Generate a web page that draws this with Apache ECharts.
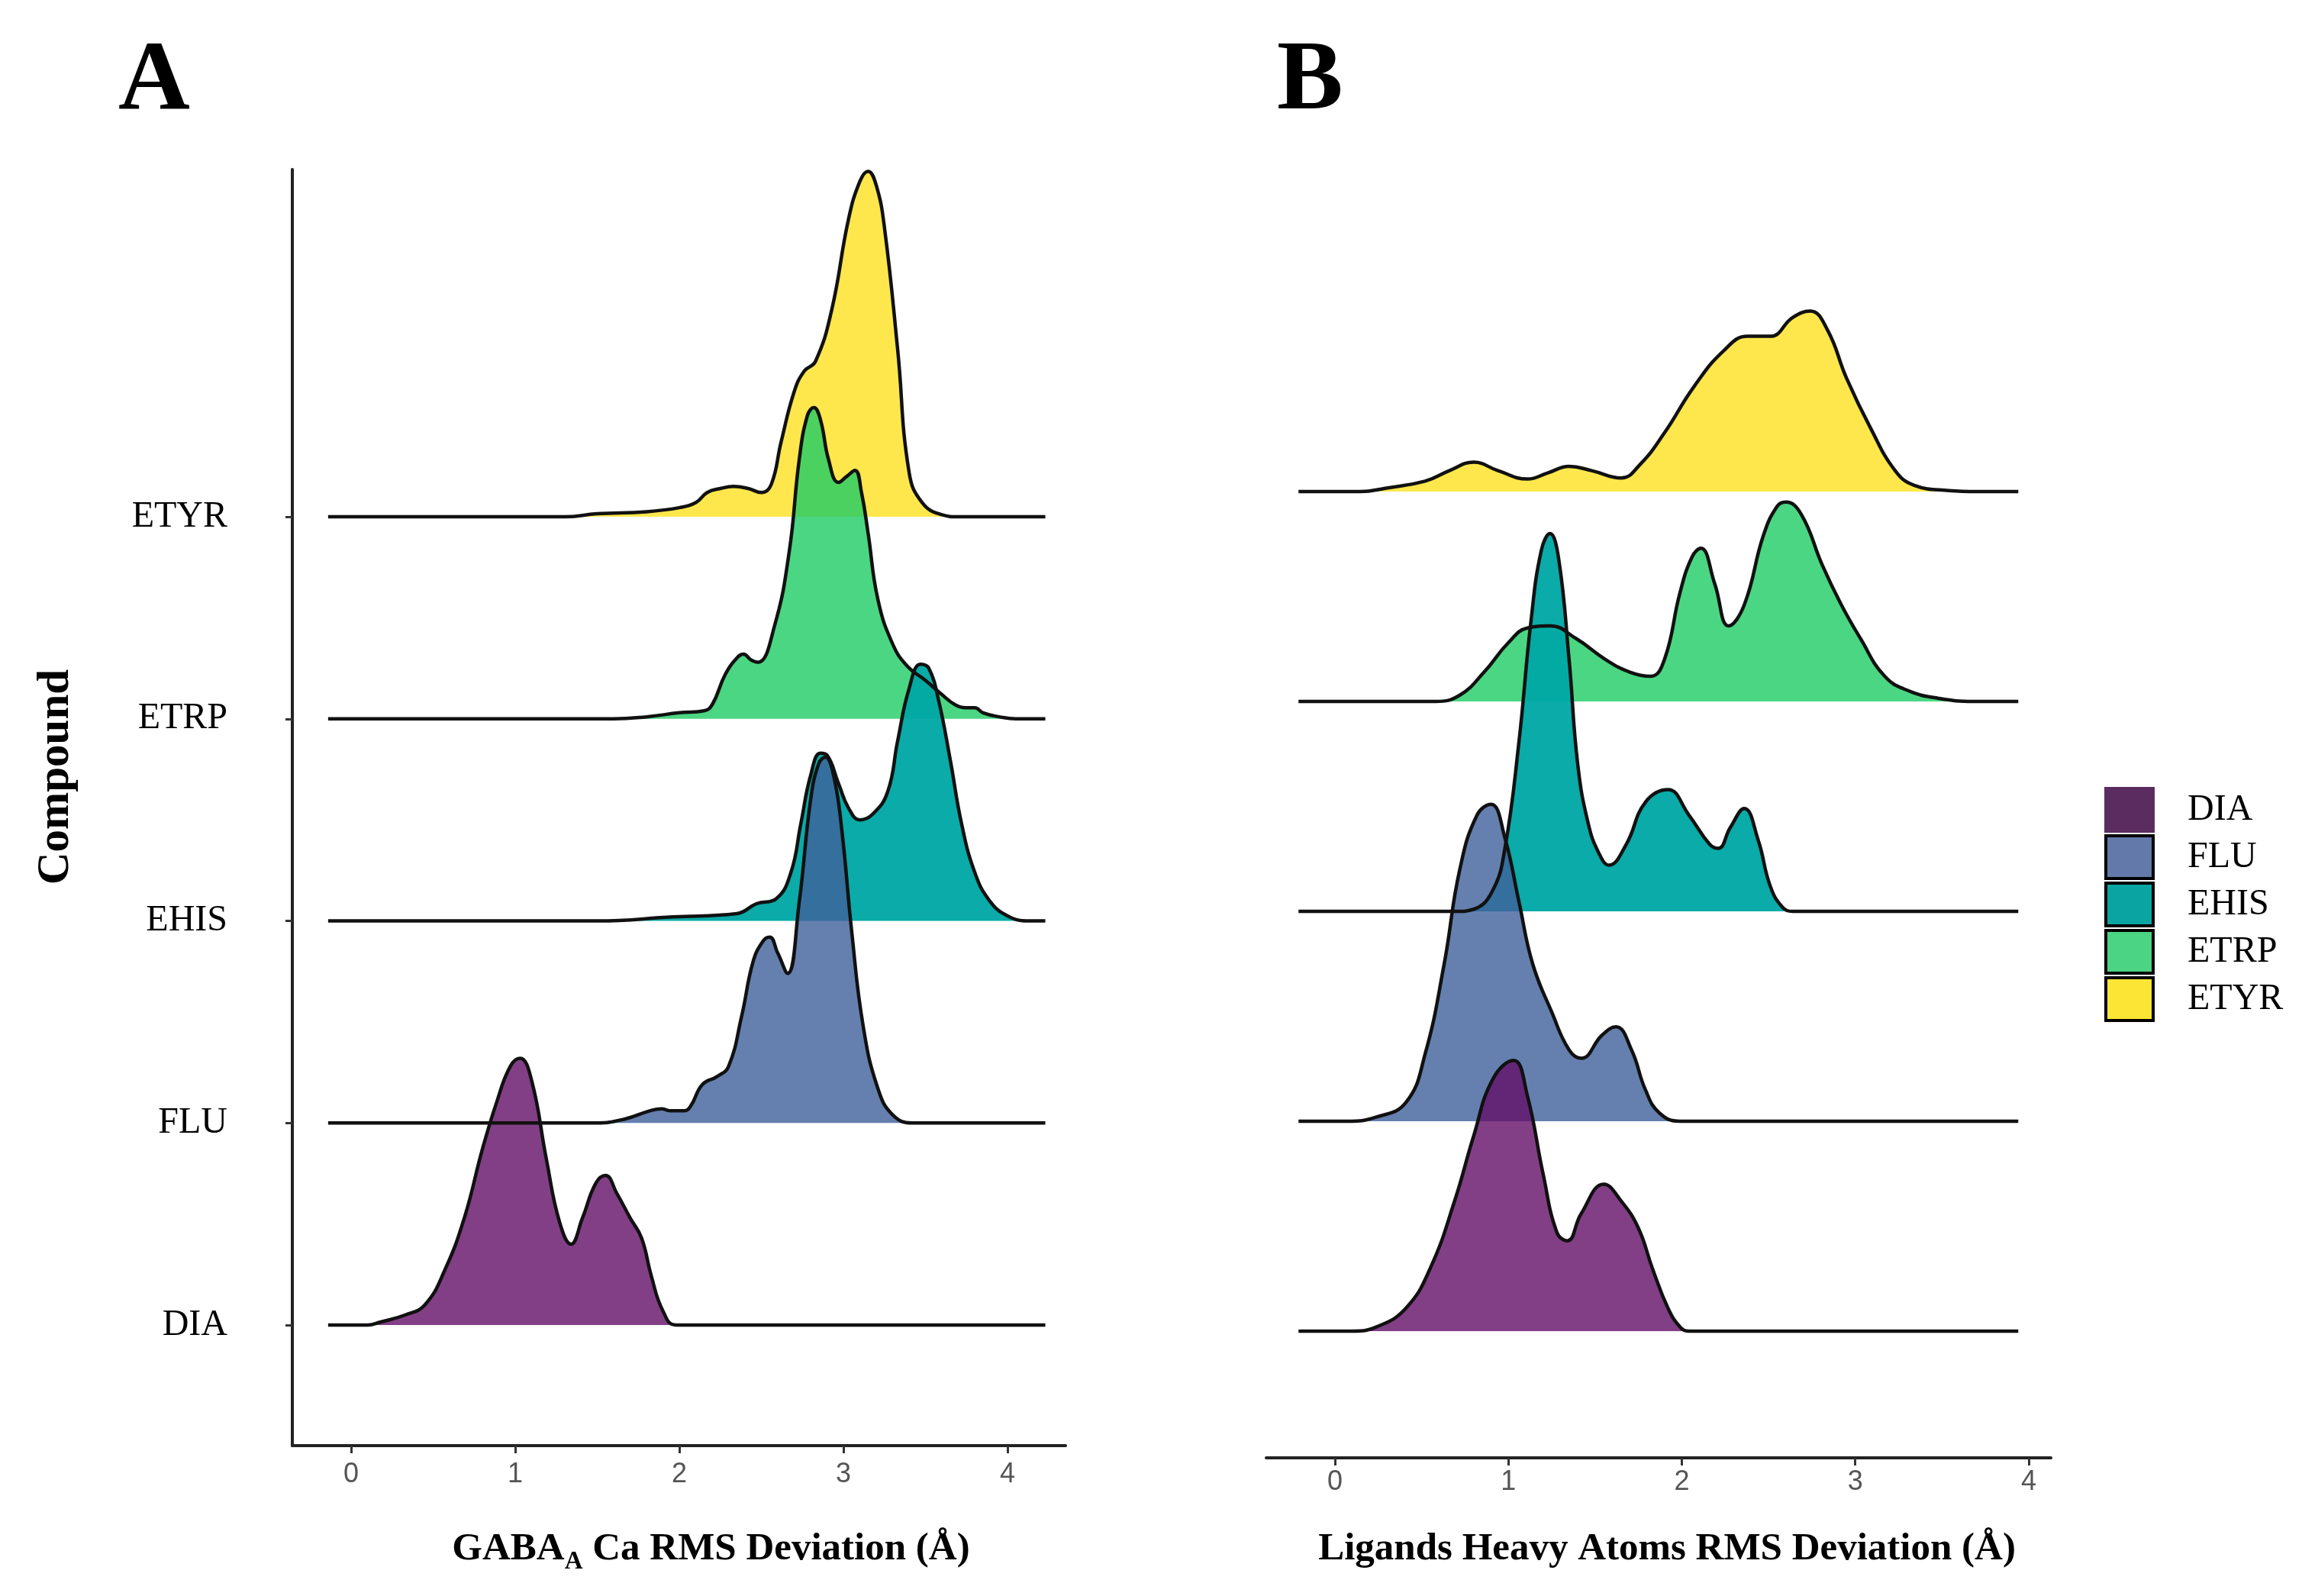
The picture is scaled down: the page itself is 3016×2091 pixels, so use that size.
<!DOCTYPE html>
<html>
<head>
<meta charset="utf-8">
<title>RMS deviation ridgelines</title>
<script src="https://cdn.jsdelivr.net/npm/echarts@6/dist/echarts.min.js"></script>
<style>
  html, body { margin: 0; padding: 0; background: #fff; }
  #chart { width: 3016px; height: 2091px; }
</style>
</head>
<body>
<div id="chart"></div>
<script>
// compounds, bottom ridge first
var compounds = ['DIA', 'FLU', 'EHIS', 'ETRP', 'ETYR'];
var legendColors = ['#5b2c5f', '#6279a9', '#0aa5a2', '#4bd483', '#fce534'];
var fillColors = ['rgba(99,15,104,0.8)', 'rgba(63,96,155,0.8)', 'rgba(0,168,164,0.96)',
                  'rgba(30,204,100,0.8)', 'rgba(253,225,31,0.8)'];
var xTicks = [0, 1, 2, 3, 4];

// panel A : GABA-A Ca RMS deviation, density in units of ridge spacing
var gabaDIA = [[-0.14,0],[0.1,0],[0.18,0.015],[0.33,0.05],[0.45,0.1],[0.57,0.27],[0.69,0.53],[0.8,0.87],[0.89,1.11],[0.97,1.28],[1.03,1.32],[1.1,1.21],[1.19,0.82],[1.27,0.51],[1.34,0.4],[1.41,0.53],[1.49,0.7],[1.55,0.74],[1.62,0.65],[1.7,0.53],[1.77,0.43],[1.83,0.24],[1.9,0.07],[1.98,0],[4.23,0]];
var gabaFLU = [[-0.14,0],[1.5,0],[1.67,0.02],[1.82,0.06],[1.89,0.07],[1.95,0.06],[2.03,0.06],[2.07,0.085],[2.14,0.19],[2.23,0.23],[2.3,0.28],[2.38,0.53],[2.45,0.8],[2.51,0.9],[2.55,0.92],[2.6,0.84],[2.66,0.74],[2.73,1.09],[2.8,1.6],[2.85,1.78],[2.89,1.81],[2.94,1.72],[2.99,1.45],[3.05,0.95],[3.12,0.48],[3.21,0.17],[3.3,0.04],[3.42,0],[4.23,0]];
var gabaEHIS = [[-0.14,0],[1.5,0],[1.96,0.02],[2.35,0.036],[2.47,0.085],[2.59,0.11],[2.68,0.24],[2.74,0.48],[2.8,0.72],[2.86,0.83],[2.9,0.82],[2.97,0.68],[3.03,0.56],[3.1,0.5],[3.18,0.53],[3.27,0.64],[3.33,0.89],[3.4,1.15],[3.47,1.27],[3.52,1.25],[3.58,1.09],[3.65,0.8],[3.72,0.48],[3.8,0.24],[3.89,0.1],[4.0,0.025],[4.13,0],[4.23,0]];
var gabaETRP = [[-0.14,0],[1.6,0],[1.8,0.01],[2.0,0.03],[2.15,0.04],[2.2,0.07],[2.28,0.22],[2.35,0.3],[2.39,0.32],[2.44,0.29],[2.48,0.28],[2.58,0.46],[2.67,0.83],[2.73,1.28],[2.78,1.5],[2.82,1.54],[2.86,1.48],[2.91,1.28],[2.97,1.17],[3.02,1.2],[3.07,1.23],[3.11,1.12],[3.15,0.92],[3.21,0.59],[3.3,0.37],[3.39,0.26],[3.5,0.19],[3.6,0.12],[3.68,0.07],[3.75,0.055],[3.8,0.055],[3.85,0.03],[3.95,0.01],[4.05,0],[4.23,0]];
var gabaETYR = [[-0.14,0],[1.3,0],[1.5,0.015],[1.8,0.025],[2.0,0.045],[2.1,0.07],[2.17,0.12],[2.25,0.14],[2.33,0.15],[2.42,0.14],[2.5,0.12],[2.56,0.16],[2.62,0.37],[2.7,0.62],[2.76,0.72],[2.83,0.77],[2.93,1.03],[3.03,1.47],[3.1,1.66],[3.15,1.71],[3.2,1.64],[3.25,1.43],[3.33,0.83],[3.4,0.22],[3.48,0.07],[3.6,0.01],[3.7,0],[4.23,0]];

// panel B : ligand heavy atoms RMS deviation
var ligDIA = [[-0.21,0],[0.1,0],[0.24,0.02],[0.41,0.11],[0.55,0.3],[0.69,0.62],[0.8,0.93],[0.91,1.2],[1.03,1.29],[1.11,1.12],[1.2,0.75],[1.28,0.47],[1.34,0.43],[1.42,0.56],[1.55,0.7],[1.65,0.62],[1.75,0.49],[1.83,0.3],[1.92,0.11],[1.99,0.02],[2.04,0],[3.94,0]];
var ligFLU = [[-0.21,0],[0.07,0],[0.24,0.02],[0.41,0.09],[0.52,0.32],[0.63,0.75],[0.72,1.2],[0.82,1.46],[0.9,1.51],[0.98,1.35],[1.06,1.05],[1.14,0.75],[1.25,0.52],[1.35,0.34],[1.42,0.3],[1.54,0.41],[1.62,0.45],[1.71,0.34],[1.79,0.15],[1.87,0.04],[1.99,0],[3.94,0]];
var ligEHIS = [[-0.21,0],[0.7,0],[0.8,0.01],[0.91,0.1],[0.98,0.3],[1.06,0.8],[1.13,1.38],[1.19,1.72],[1.24,1.8],[1.29,1.68],[1.35,1.2],[1.4,0.7],[1.46,0.42],[1.52,0.28],[1.58,0.22],[1.68,0.32],[1.79,0.52],[1.92,0.58],[2.04,0.46],[2.16,0.32],[2.21,0.3],[2.28,0.4],[2.36,0.49],[2.44,0.34],[2.51,0.12],[2.58,0.02],[2.64,0],[3.94,0]];
var ligETRP = [[-0.21,0],[0.58,0],[0.72,0.03],[0.86,0.14],[1.0,0.28],[1.11,0.35],[1.24,0.36],[1.39,0.3],[1.56,0.2],[1.7,0.14],[1.82,0.12],[1.9,0.2],[1.99,0.52],[2.06,0.69],[2.11,0.73],[2.19,0.56],[2.27,0.36],[2.36,0.46],[2.47,0.79],[2.55,0.93],[2.6,0.95],[2.69,0.89],[2.81,0.65],[2.92,0.46],[3.03,0.3],[3.17,0.12],[3.31,0.05],[3.48,0.015],[3.68,0],[3.94,0]];
var ligETYR = [[-0.21,0],[0.15,0],[0.29,0.016],[0.52,0.05],[0.66,0.1],[0.8,0.14],[0.94,0.1],[1.11,0.06],[1.23,0.09],[1.35,0.12],[1.48,0.1],[1.65,0.065],[1.76,0.13],[1.9,0.28],[2.07,0.5],[2.24,0.67],[2.38,0.74],[2.51,0.74],[2.64,0.83],[2.74,0.86],[2.84,0.77],[2.95,0.54],[3.09,0.3],[3.23,0.1],[3.34,0.03],[3.54,0.005],[3.7,0],[3.94,0]];

var gabaData = [gabaDIA, gabaFLU, gabaEHIS, gabaETRP, gabaETYR];
var ligData = [ligDIA, ligFLU, ligEHIS, ligETRP, ligETYR];

var serif = 'Liberation Serif, DejaVu Serif, serif';
var narrow = 'Liberation Sans Narrow, Liberation Sans, sans-serif';

// each ridge sits on its own row (row index k), area filled down to that row
function ridges(data, axisIndex) {
    var out = [];
    for (var k = compounds.length - 1; k >= 0; k--) {
        var row = k;
        out.push({
            name: compounds[k], type: 'line',
            xAxisIndex: axisIndex, yAxisIndex: axisIndex,
            data: data[k].map(function (p) { return [p[0], row + p[1]]; }),
            smooth: 0.45, symbol: 'none', clip: false,
            itemStyle: { color: legendColors[k] },
            lineStyle: { color: '#111', width: 4.5 },
            areaStyle: { color: fillColors[k], opacity: 1, origin: row }
        });
    }
    return out;
}

var chart = echarts.init(document.getElementById('chart'));
var option = {
    backgroundColor: '#fff',
    animation: false,
    title: [
        { text: 'A', left: 150, top: 38, textStyle: { fontFamily: serif, fontWeight: 'bold', fontSize: 130, color: '#000' } },
        { text: 'B', left: 1668, top: 38, textStyle: { fontFamily: serif, fontWeight: 'bold', fontSize: 130, color: '#000' } }
    ],
    legend: {
        orient: 'vertical', left: 2752, top: 1026,
        icon: 'rect', itemWidth: 62, itemHeight: 56, itemGap: 2,
        textStyle: { fontFamily: serif, fontSize: 48, color: '#000', padding: [16, 0, 0, 40] },
        data: compounds.map(function (c, i) {
            return { name: c, itemStyle: { color: legendColors[i], borderColor: i === 0 ? legendColors[0] : '#000', borderWidth: 4 } };
        })
    },
    grid: [
        { left: 383, top: 222, width: 1013, height: 1672 },
        { left: 1659, top: 222, width: 1028, height: 1688 }
    ],
    xAxis: [
        {
            type: 'value', gridIndex: 0, min: -0.358, max: 4.353,
            name: '{m|GABA}{s|A}{m| Ca RMS Deviation (Å)}',
            nameLocation: 'middle', nameGap: 104,
            nameTextStyle: {
                padding: [0, 0, 0, 84],
                rich: {
                    m: { fontFamily: serif, fontWeight: 'bold', fontSize: 51, color: '#000', lineHeight: 64 },
                    s: { fontFamily: serif, fontWeight: 'bold', fontSize: 33, color: '#000', lineHeight: 33, padding: [32, 0, 0, 0] }
                }
            },
            axisLine: { onZero: false, lineStyle: { color: '#222', width: 4 } },
            axisTick: { customValues: xTicks, length: 10, lineStyle: { color: '#333', width: 3 } },
            axisLabel: { customValues: xTicks, margin: 20, fontFamily: narrow, fontSize: 36, color: '#555' },
            splitLine: { show: false }
        },
        {
            type: 'value', gridIndex: 1, min: -0.396, max: 4.128,
            name: 'Ligands Heavy Atoms RMS Deviation (Å)',
            nameLocation: 'middle', nameGap: 94,
            nameTextStyle: { fontFamily: serif, fontWeight: 'bold', fontSize: 51, color: '#000', padding: [0, 0, 0, 22] },
            axisLine: { onZero: false, lineStyle: { color: '#222', width: 4 } },
            axisTick: { customValues: xTicks, length: 10, lineStyle: { color: '#333', width: 3 } },
            axisLabel: { customValues: xTicks, margin: 14, fontFamily: narrow, fontSize: 36, color: '#555' },
            splitLine: { show: false }
        }
    ],
    yAxis: [
        {
            type: 'value', gridIndex: 0, min: -0.597, max: 5.719,
            name: 'Compound', nameLocation: 'middle', nameRotate: 90, nameGap: 280,
            nameTextStyle: { fontFamily: serif, fontWeight: 'bold', fontSize: 59, color: '#000', padding: [0, 0, 0, 80] },
            axisLine: { show: true, onZero: false, lineStyle: { color: '#222', width: 4 } },
            axisTick: { show: true, customValues: xTicks, length: 9, lineStyle: { color: '#333', width: 3 } },
            axisLabel: {
                customValues: xTicks, margin: 85, fontFamily: serif, fontSize: 48, color: '#000',
                formatter: function (v) { return compounds[Math.round(v)]; }
            },
            splitLine: { show: false }
        },
        { type: 'value', gridIndex: 1, min: -0.604, max: 5.535, show: false }
    ],
    series: ridges(gabaData, 0).concat(ridges(ligData, 1))
};
chart.setOption(option);
</script>
</body>
</html>
